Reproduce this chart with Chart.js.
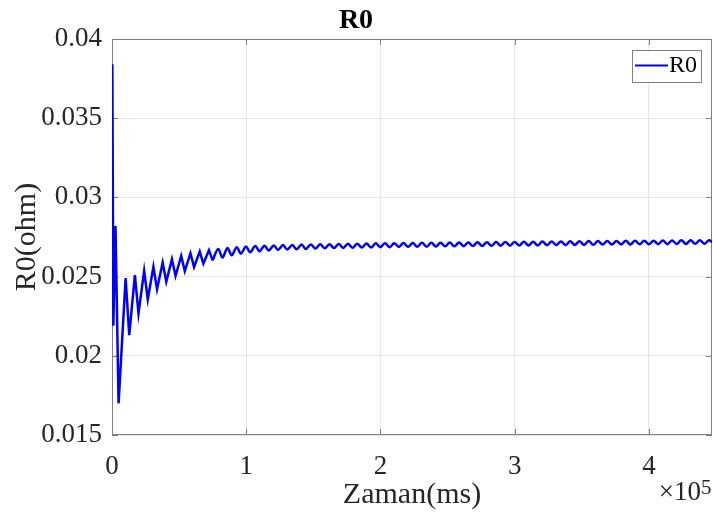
<!DOCTYPE html>
<html>
<head>
<meta charset="utf-8">
<script src="https://cdn.jsdelivr.net/npm/chart.js@4.4.1/dist/chart.umd.min.js"></script>
<style>
  html, body { margin: 0; padding: 0; background: #fff; }
  #wrap { width: 713px; height: 516px; }
</style>
</head>
<body>
<div id="wrap"><canvas id="r0Chart" width="713" height="516"></canvas></div>
<script>
// R0 (ohm) against time (ms).
// start transient, then the peak / trough pairs of the decaying ripple
const startTimes = [0, 250, 1000, 2600, 4900];
const startValues = [0.0278, 0.0384, 0.0219, 0.0282, 0.0170];

const peakTimes = [10150, 17050, 23950, 30850, 37750, 44650, 51550, 58450, 65350, 72250,
  79150, 86050, 92950, 99850, 106750, 113650, 120550, 127450, 134350, 141250,
  148150, 155050, 161950, 168850, 175750, 182650, 189550, 196450, 203350, 210250,
  217150, 224050, 230950, 237850, 244750, 251650, 258550, 265450, 272350, 279250,
  286150, 293050, 299950, 306850, 313750, 320650, 327550, 334450, 341350, 348250,
  355150, 362050, 368950, 375850, 382750, 389650, 396550, 403450, 410350, 417250,
  424150, 431050, 437950, 444850];
const peakValues = [0.02491, 0.02510, 0.02537, 0.02562, 0.02588, 0.02609, 0.02630, 0.02648, 0.02658, 0.02667,
  0.02675, 0.02681, 0.02686, 0.02690, 0.02693, 0.02695, 0.02697, 0.02699, 0.02700, 0.02702,
  0.02703, 0.02704, 0.02705, 0.02706, 0.02707, 0.02708, 0.02709, 0.02710, 0.02710, 0.02711,
  0.02712, 0.02712, 0.02713, 0.02714, 0.02714, 0.02715, 0.02716, 0.02716, 0.02717, 0.02717,
  0.02718, 0.02719, 0.02719, 0.02720, 0.02720, 0.02721, 0.02722, 0.02722, 0.02723, 0.02723,
  0.02724, 0.02724, 0.02725, 0.02725, 0.02726, 0.02726, 0.02727, 0.02727, 0.02728, 0.02728,
  0.02729, 0.02729, 0.02730, 0.02730];

const troughTimes = [12850, 19750, 26650, 33550, 40450, 47350, 54250, 61150, 68050, 74950,
  82250, 89150, 96050, 102950, 109850, 116750, 123650, 130550, 137450, 144350,
  151600, 158500, 165400, 172300, 179200, 186100, 193000, 199900, 206800, 213700,
  220600, 227500, 234400, 241300, 248200, 255100, 262000, 268900, 275800, 282700,
  289600, 296500, 303400, 310300, 317200, 324100, 331000, 337900, 344800, 351700,
  358600, 365500, 372400, 379300, 386200, 393100, 400000, 406900, 413800, 420700,
  427600, 434500, 441400, 447000];
const troughValues = [0.02130, 0.02268, 0.02357, 0.02420, 0.02468, 0.02504, 0.02535, 0.02560, 0.02582, 0.02602,
  0.02620, 0.02634, 0.02645, 0.02654, 0.02660, 0.02665, 0.02668, 0.02671, 0.02673, 0.02675,
  0.02677, 0.02679, 0.02680, 0.02681, 0.02682, 0.02683, 0.02684, 0.02685, 0.02686, 0.02687,
  0.02688, 0.02688, 0.02689, 0.02690, 0.02691, 0.02691, 0.02692, 0.02693, 0.02693, 0.02694,
  0.02695, 0.02695, 0.02696, 0.02697, 0.02697, 0.02698, 0.02699, 0.02699, 0.02700, 0.02700,
  0.02701, 0.02702, 0.02702, 0.02703, 0.02703, 0.02704, 0.02704, 0.02705, 0.02705, 0.02706,
  0.02706, 0.02707, 0.02707, 0.02718];

const xTicks = [0, 100000, 200000, 300000, 400000];
const yTicks = [0.015, 0.02, 0.025, 0.03, 0.035, 0.04];
const xMax = 447000;
// the early ripple has sharp, saw-like tips; later it is smooth
const sharpCycles = 10;

// build the point list: start, then peak, trough, peak, trough ...
const points = startTimes.map((t, i) => ({ x: t, y: startValues[i] }));
for (let i = 0; i < peakTimes.length; i++) {
  points.push({ x: peakTimes[i], y: peakValues[i] });
  if (i < troughTimes.length) points.push({ x: troughTimes[i], y: troughValues[i] });
}
const splitAt = startTimes.length + sharpCycles * 2;
const earlyPoints = points.slice(0, splitAt);
const latePoints = points.slice(splitAt - 1);

const SERIF = '"Liberation Serif", "DejaVu Serif", serif';
const AXIS_GREY = '#808080';
const BLUE = '#0000ff';

// MATLAB style box, inward tick marks, legend and the x10^5 exponent
const matlabBox = {
  id: 'matlabBox',
  beforeDatasetsDraw(chart) {
    const { ctx, chartArea: a, scales } = chart;
    ctx.save();
    ctx.strokeStyle = AXIS_GREY;
    ctx.lineWidth = 1;
    ctx.strokeRect(a.left + 0.5, a.top + 0.5, a.right - a.left - 1, a.bottom - a.top - 1);
    ctx.beginPath();
    scales.x.ticks.forEach(t => {
      const px = Math.round(scales.x.getPixelForValue(t.value)) + 0.5;
      ctx.moveTo(px, a.bottom); ctx.lineTo(px, a.bottom - 6);
      ctx.moveTo(px, a.top); ctx.lineTo(px, a.top + 6);
    });
    scales.y.ticks.forEach(t => {
      const py = Math.round(scales.y.getPixelForValue(t.value)) + 0.5;
      ctx.moveTo(a.left, py); ctx.lineTo(a.left + 6, py);
      ctx.moveTo(a.right, py); ctx.lineTo(a.right - 6, py);
    });
    ctx.stroke();
    ctx.restore();
  },
  afterDraw(chart) {
    const { ctx, chartArea: a } = chart;
    ctx.save();
    // legend
    const bx = a.right - 80, by = a.top + 11, bw = 69, bh = 32;
    ctx.fillStyle = '#fff';
    ctx.fillRect(bx, by, bw, bh);
    ctx.strokeStyle = AXIS_GREY;
    ctx.lineWidth = 1;
    ctx.strokeRect(bx + 0.5, by + 0.5, bw, bh);
    ctx.strokeStyle = BLUE;
    ctx.lineWidth = 2;
    ctx.beginPath();
    ctx.moveTo(bx + 3, by + 15.5);
    ctx.lineTo(bx + 36, by + 15.5);
    ctx.stroke();
    ctx.fillStyle = '#000';
    ctx.font = '24px ' + SERIF;
    ctx.textBaseline = 'middle';
    ctx.textAlign = 'left';
    ctx.fillText('R0', bx + 37, by + 16);
    // exponent
    ctx.fillStyle = '#262626';
    ctx.textBaseline = 'alphabetic';
    ctx.textAlign = 'right';
    ctx.font = '27px ' + SERIF;
    ctx.fillText('\u00d710', 701, 500);
    ctx.textAlign = 'left';
    ctx.font = '21px ' + SERIF;
    ctx.fillText('5', 701, 494);
    ctx.restore();
  }
};

const ctx = document.getElementById('r0Chart').getContext('2d');
new Chart(ctx, {
  type: 'line',
  data: {
    datasets: [{
      label: 'R0',
      data: earlyPoints,
      borderColor: BLUE,
      borderWidth: 2.5,
      pointRadius: 0,
      fill: false,
      tension: 0
    }, {
      label: 'R0 ripple',
      data: latePoints,
      borderColor: BLUE,
      borderWidth: 2.5,
      pointRadius: 0,
      fill: false,
      cubicInterpolationMode: 'monotone'
    }]
  },
  options: {
    responsive: false,
    animation: false,
    layout: { padding: { right: 1 } },
    plugins: {
      legend: { display: false },
      tooltip: { enabled: false },
      title: {
        display: true,
        text: 'R0',
        color: '#000',
        font: { family: SERIF, size: 28, weight: 'bold' },
        padding: { top: 4, bottom: 1.4 }
      }
    },
    scales: {
      x: {
        type: 'linear',
        min: 0,
        max: xMax,
        afterBuildTicks: s => { s.ticks = xTicks.map(v => ({ value: v })); },
        afterFit: s => { s.height = 81; },
        ticks: {
          callback: v => String(v / 100000),
          color: '#262626',
          font: { family: SERIF, size: 27 },
          padding: 16,
          maxRotation: 0,
          autoSkip: false
        },
        grid: { color: '#e6e6e6', drawTicks: false },
        border: { display: false },
        title: {
          display: true,
          text: 'Zaman(ms)',
          color: '#262626',
          font: { family: SERIF, size: 30 },
          padding: { top: 0, bottom: 3 }
        }
      },
      y: {
        min: 0.015,
        max: 0.04,
        afterBuildTicks: s => { s.ticks = yTicks.map(v => ({ value: v })); },
        afterFit: s => { s.width = 112; },
        ticks: {
          callback: v => String(parseFloat(v.toFixed(3))),
          color: '#262626',
          font: { family: SERIF, size: 27 },
          padding: 10,
          autoSkip: false
        },
        grid: { color: '#e6e6e6', drawTicks: false },
        border: { display: false },
        title: {
          display: true,
          text: 'R0(ohm)',
          color: '#262626',
          font: { family: SERIF, size: 30 },
          padding: { top: 9, bottom: 0 }
        }
      }
    }
  },
  plugins: [matlabBox]
});
</script>
</body>
</html>
